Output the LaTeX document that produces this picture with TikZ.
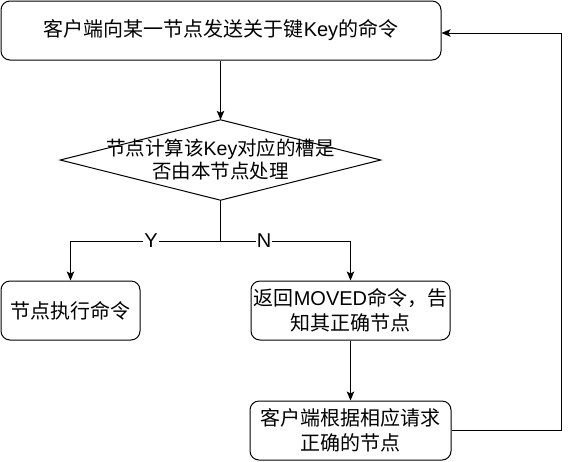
\documentclass[tikz,border=0pt]{standalone}
\usepackage{fontspec}
\setmainfont{Noto Sans CJK SC}
\newfontfamily\lat{Liberation Sans}
\usetikzlibrary{arrows.meta}
\begin{document}
\begin{tikzpicture}[x=1pt,y=-1pt,
  box/.style={draw,rounded corners=9pt,line width=1pt,align=center,
    font=\fontsize{20}{25}\selectfont,inner sep=0pt},
  conn/.style={line width=1pt,-{Stealth[length=9pt,width=7.5pt,inset=2pt]}},
  lbl/.style={fill=white,inner sep=1pt,font=\lat\fontsize{20}{22}\selectfont}]
\useasboundingbox (0,0) rectangle (569,461);
\fill[white] (0,0) rectangle (569,461);
\node[box,minimum width=440pt,minimum height=59pt] (top) at (221,30.5)
  {客户端向某一节点发送关于键{\lat Key}的命令};
\node[align=center,minimum width=320pt,minimum height=80pt,inner sep=0pt,
  font=\fontsize{19.5}{23}\selectfont] (dia) at (220.5,160)
  {节点计算该{\lat Key}对应的槽是\\否由本节点处理};
\draw[line width=1pt] (dia.north) -- (dia.east) -- (dia.south) -- (dia.west) -- cycle;
\node[box,minimum width=139pt,minimum height=59pt] (exec) at (70.5,310.5)
  {节点执行命令};
\node[box,minimum width=199pt,minimum height=59pt] (moved) at (350.5,310.5)
  {返回{\lat MOVED}命令，告\\知其正确节点};
\node[box,minimum width=201pt,minimum height=59pt] (retry) at (350.5,430.5)
  {客户端根据相应请求\\正确的节点};
\coordinate (split) at (220.5,241);
\coordinate (loopA) at (561,430.5);
\coordinate (loopB) at (561,33);
\draw[conn] (top.south -| dia.north) -- (dia.north);
\draw[line width=1pt] (dia.south) -- (split);
\draw[conn] (split) -- (split -| exec.north) -- (exec.north);
\draw[conn] (split) -- (split -| moved.north) -- (moved.north);
\node[lbl] (ylab) at (151,241) {Y};
\node[lbl] (nlab) at (264,241) {N};
\draw[conn] (moved.south) -- (retry.north);
\draw[conn] (retry.east) -- (loopA) -- (loopB) -- (loopB -| top.east);
\end{tikzpicture}
\end{document}
